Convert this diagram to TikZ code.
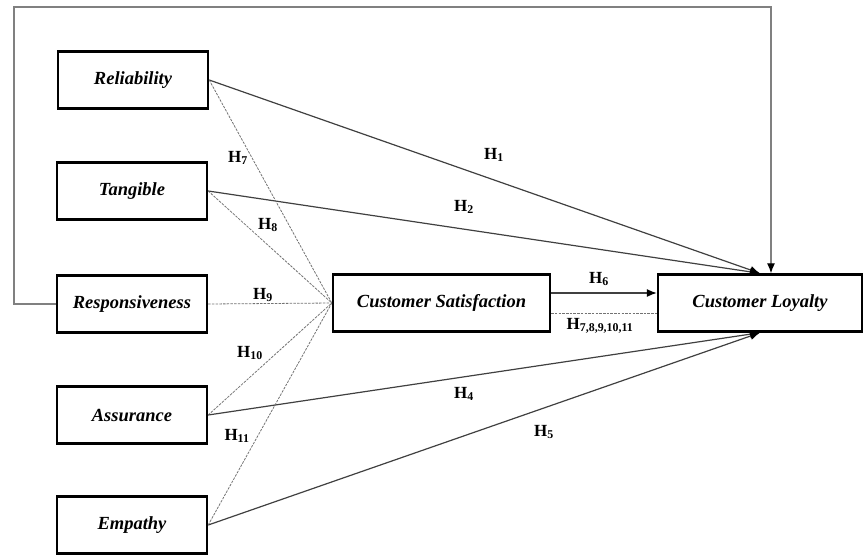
\documentclass[tikz,border=0pt]{standalone}
\usepackage{fontspec}
\setmainfont{Liberation Serif}
\usetikzlibrary{arrows.meta}

\begin{document}
\begin{tikzpicture}[
    x=1pt, y=-1pt,
    construct/.style={draw, fill=white, line width=2.4pt,
      minimum width=150pt, minimum height=57pt,
      font=\fontsize{18.5}{21}\selectfont\bfseries\itshape},
    hyp/.style={font=\fontsize{17}{20}\selectfont\bfseries, inner sep=1pt},
    direct/.style={draw=black!75, line width=1.2pt},
    mediated/.style={draw=black!55, line width=0.8pt, dash pattern=on 2.5pt off 1.2pt},
    tip/.style={-{Latex[length=10pt,width=8pt,color=black]}},
  ]
  \useasboundingbox (0,0) rectangle (864,557);

  % constructs
  \node[construct] (rel) at (133,80)  {Reliability};
  \node[construct] (tan) at (132,191) {Tangible};
  \node[construct] (res) at (132,304) {Responsiveness};
  \node[construct] (ass) at (132,415) {Assurance};
  \node[construct] (emp) at (132,525) {Empathy};
  \node[construct, minimum width=217pt] (cs) at (441.5,303) {Customer Satisfaction};
  \node[construct, minimum width=204pt] (cl) at (760,303) {Customer Loyalty};

  % direct effects
  \draw[direct, tip] (rel.east) -- (cl.north);
  \draw[direct, tip] (tan.east) -- (cl.north);
  \draw[direct, tip] (ass.east) -- (cl.south);
  \draw[direct, tip] (emp.east) -- (cl.south);
  \draw[direct, tip] ([yshift=10pt]cs.east) -- ([yshift=10pt]cl.west);
  \coordinate (top) at (14,7);
  \draw[draw=black!50, line width=1.2pt, tip]
    (res.west) -| (top) -| ([xshift=11pt]cl.north);

  % mediated effects
  \draw[mediated] (rel.east) -- (cs.west);
  \draw[mediated] (tan.east) -- (cs.west);
  \draw[mediated] (res.east) -- (cs.west);
  \draw[mediated] (ass.east) -- (cs.west);
  \draw[mediated] (emp.east) -- (cs.west);
  \draw[mediated] ([yshift=-10pt]cs.east) -- ([yshift=-10pt]cl.west);

  % hypotheses
  \node[hyp] (h1) at (494,155) {H\textsubscript{1}};
  \node[hyp] (h2) at (464,207) {H\textsubscript{2}};
  \node[hyp] (h4) at (464,394) {H\textsubscript{4}};
  \node[hyp] (h5) at (544,432) {H\textsubscript{5}};
  \node[hyp] (h6) at (599,279) {H\textsubscript{6}};
  \node[hyp] (h7) at (238,158) {H\textsubscript{7}};
  \node[hyp] (h8) at (268,225) {H\textsubscript{8}};
  \node[hyp] (h9) at (263,295) {H\textsubscript{9}};
  \node[hyp] (h10) at (250,353) {H\textsubscript{10}};
  \node[hyp] (h11) at (237,436) {H\textsubscript{11}};
  \node[hyp] (hall) at (600,326) {H\textsubscript{7,8,9,10,11}};
\end{tikzpicture}
\end{document}
